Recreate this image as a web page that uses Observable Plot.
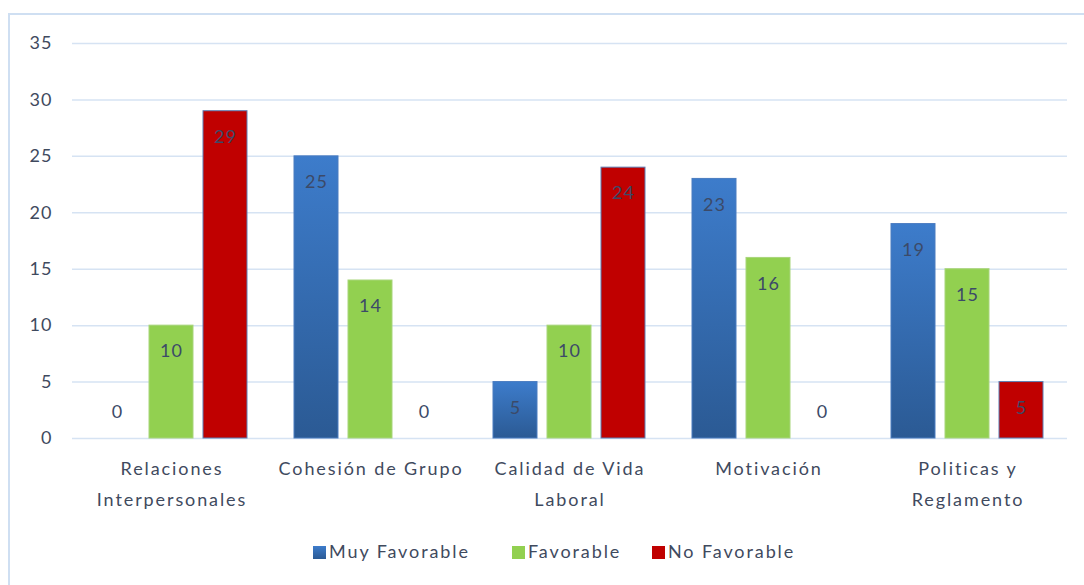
<!DOCTYPE html>
<html>
<head>
<meta charset="utf-8">
<script src="https://cdn.jsdelivr.net/npm/d3@7"></script>
<script src="https://cdn.jsdelivr.net/npm/@observablehq/plot@0.6"></script>
<style>
  html, body { margin: 0; padding: 0; background: #fff; overflow: hidden; width: 1084px; height: 585px; }
  #frame { position: absolute; left: 8px; top: 13px; width: 1100px; height: 600px; border: 2px solid #cfdff2; box-sizing: border-box; }
  #chart { position: absolute; left: 0; top: 0; }
  #legend { position: absolute; left: 0; top: 536px; width: 1084px; height: 30px; font-family: Lato, sans-serif; font-size: 18px; color: #3f4a5e; letter-spacing: 1.9px; }
  #legend .item { position: absolute; top: 0; white-space: nowrap; line-height: 30px; }
  #legend .sw { display: inline-block; width: 13px; height: 13px; margin-right: 3px; vertical-align: -1px; }
</style>
</head>
<body>
<div id="frame"></div>
<div id="chart"></div>
<div id="legend"></div>
<script>
const categories = ["Relaciones Interpersonales", "Cohesión de Grupo", "Calidad de Vida Laboral", "Motivación", "Politicas y Reglamento"];
const categoryLabels = ["Relaciones\nInterpersonales", "Cohesión de Grupo", "Calidad de Vida\nLaboral", "Motivación", "Politicas y\nReglamento"];
const seriesNames = ["Muy Favorable", "Favorable", "No Favorable"];
const muyFavorable = [0, 25, 5, 23, 19];
const favorable = [10, 14, 10, 16, 15];
const noFavorable = [29, 0, 24, 0, 5];
const yTicks = [0, 5, 10, 15, 20, 25, 30, 35];
const seriesColors = ["url(#blueGrad)", "#92d050", "#c00000"];
const legendColors = ["linear-gradient(#3d7ccb, #2b5a94)", "#92d050", "#c00000"];

const seriesValues = [muyFavorable, favorable, noFavorable];
const data = [];
categories.forEach((c, i) => {
  seriesNames.forEach((s, j) => {
    data.push({category: c, series: s, value: seriesValues[j][i]});
  });
});
const labelData = categories.map((c, i) => ({category: c, label: categoryLabels[i]}));

const textColor = "#3f4a5e";
const font = "Lato, sans-serif";

const chart = Plot.plot({
  width: 1084,
  height: 520,
  marginLeft: 70,
  marginRight: 16,
  marginTop: 43,
  marginBottom: 82,
  style: {fontFamily: font, fontSize: "18px", color: textColor, background: "transparent"},
  fx: {domain: categories, padding: 0, axis: null},
  x: {domain: seriesNames, paddingInner: 0.18, paddingOuter: 0.405, axis: null},
  y: {domain: [0, 35], ticks: yTicks, tickSize: 0, tickPadding: 20, label: null},
  marks: [
    Plot.ruleY(yTicks, {y: d => d, stroke: "#d6e3f3", strokeWidth: 1.5}),
    Plot.barY(data.filter(d => d.value > 0), {
      fx: "category", x: "series", y: "value",
      fill: d => seriesColors[seriesNames.indexOf(d.series)],
      stroke: d => d.series === "No Favorable" ? "#5d7fb5" : d.series === "Muy Favorable" ? "#4a7cc0" : "#a8d57a",
      strokeWidth: 1
    }),
    Plot.text(data.filter(d => d.value > 0), {
      fx: "category", x: "series", y: "value", text: d => String(d.value),
      dy: 26, fill: "#3c4a68", fontSize: 18
    }),
    Plot.text(data.filter(d => d.value === 0), {
      fx: "category", x: "series", y: "value", text: d => String(d.value),
      dy: -26, fill: "#3c4a68", fontSize: 18
    }),
    Plot.text(labelData, {
      fx: "category", text: "label", frameAnchor: "bottom", lineAnchor: "top",
      dy: 15, lineHeight: 1.72, fill: textColor, fontSize: 18, className: "catlabel"
    })
  ]
});

const svg = d3.select(chart);
const defs = svg.insert("defs", ":first-child");
const g = defs.append("linearGradient").attr("id", "blueGrad").attr("x1", 0).attr("y1", 0).attr("x2", 0).attr("y2", 1);
g.append("stop").attr("offset", "0%").attr("stop-color", "#3d7ccb");
g.append("stop").attr("offset", "100%").attr("stop-color", "#2b5a94");
svg.selectAll("text").style("letter-spacing", "1px");
svg.selectAll(".catlabel text").style("letter-spacing", "1.9px");

document.getElementById("chart").appendChild(chart);

const legend = document.getElementById("legend");
const legendX = [313, 512, 652];
seriesNames.forEach((s, i) => {
  const item = document.createElement("div");
  item.className = "item";
  item.style.left = legendX[i] + "px";
  const sw = document.createElement("span");
  sw.className = "sw";
  sw.style.background = legendColors[i];
  item.appendChild(sw);
  item.appendChild(document.createTextNode(s));
  legend.appendChild(item);
});
</script>
</body>
</html>
